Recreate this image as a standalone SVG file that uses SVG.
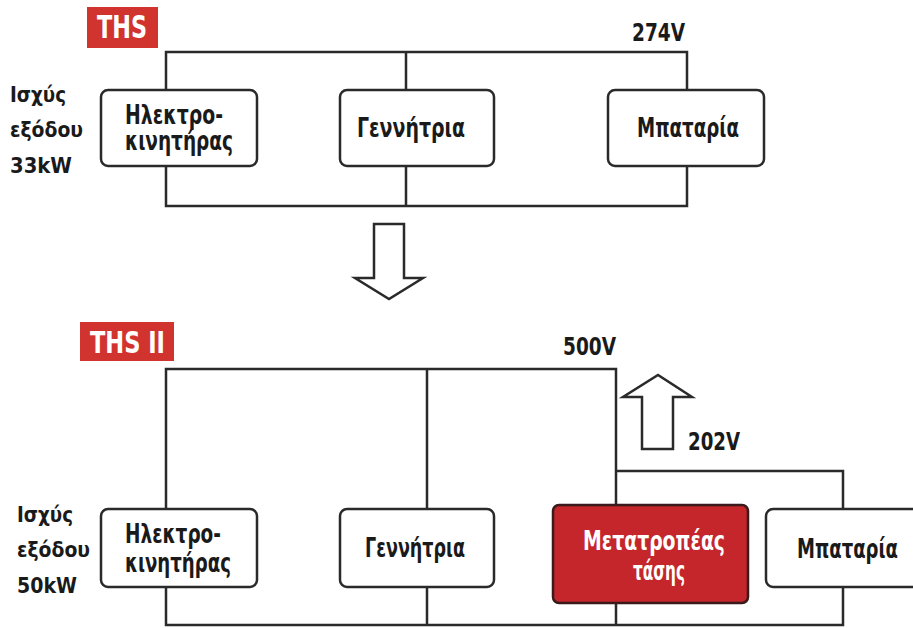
<svg xmlns="http://www.w3.org/2000/svg" width="913" height="628" viewBox="0 0 913 628">
<style>
.wire{fill:none;stroke:#2a2a2a;stroke-width:2.5}
.box{fill:#fff;stroke:#2a2a2a;stroke-width:2.5}
.conv{fill:#c4262b;stroke:#3a1a1a;stroke-width:2.5}
.tag{fill:#d1332f}
.arrow{fill:#fff;stroke:#2a2a2a;stroke-width:2.5;stroke-linejoin:miter}
text{font-family:"Liberation Sans Narrow","DejaVu Sans Condensed","Liberation Sans",sans-serif;font-weight:bold;fill:#1a1a1a}
.w{fill:#fff}
.lbl{font-size:22px}
.bt{font-size:27px}
.v{font-size:24px}
</style>
<rect width="913" height="628" fill="#fff"/>
<g id="connectors">
<path class="wire" d="M166 52H687V206H166Z M406 52V206"/>
<path class="wire" d="M166 369H616V625H166Z M427 369V625 M616 471H843V625H616"/>
</g>
<g id="ths-tag"><rect class="tag" x="87" y="7" width="71" height="41"/><text class="w" x="97" y="38" font-size="32" textLength="50" lengthAdjust="spacingAndGlyphs">THS</text></g>
<g id="v274"><text class="v" x="632" y="41" textLength="53" lengthAdjust="spacingAndGlyphs">274V</text></g>
<g id="power1">
<text class="lbl" x="10" y="102" textLength="56" lengthAdjust="spacingAndGlyphs">Ισχύς</text>
<text class="lbl" x="10" y="137" textLength="73" lengthAdjust="spacingAndGlyphs">εξόδου</text>
<text class="lbl" x="10" y="173" textLength="62" lengthAdjust="spacingAndGlyphs">33kW</text>
</g>
<g id="motor1"><rect class="box" x="101" y="90" width="156" height="76" rx="7"/>
<text class="bt" x="125" y="124" textLength="98" lengthAdjust="spacingAndGlyphs">Ηλεκτρο-</text>
<text class="bt" x="125" y="150" textLength="108" lengthAdjust="spacingAndGlyphs">κινητήρας</text></g>
<g id="gen1"><rect class="box" x="340" y="90" width="154" height="76" rx="7"/>
<text class="bt" x="357" y="137" textLength="108" lengthAdjust="spacingAndGlyphs">Γεννήτρια</text></g>
<g id="bat1"><rect class="box" x="608" y="90" width="156" height="76" rx="7"/>
<text class="bt" x="637" y="137" textLength="102" lengthAdjust="spacingAndGlyphs">Μπαταρία</text></g>
<g id="down-arrow"><polygon class="arrow" points="374,224 404,224 404,278 423,278 389,299 355,278 374,278"/></g>
<g id="ths2-tag"><rect class="tag" x="80" y="322" width="94" height="39"/><text class="w" x="90" y="353" font-size="30" textLength="75" lengthAdjust="spacingAndGlyphs">THS II</text></g>
<g id="v500"><text class="v" x="563" y="355" textLength="53" lengthAdjust="spacingAndGlyphs">500V</text></g>
<g id="up-arrow"><polygon class="arrow" points="642,449 673,449 673,397 692,397 658,375 623,397 642,397"/></g>
<g id="v202"><text class="v" x="688" y="450" textLength="52" lengthAdjust="spacingAndGlyphs">202V</text></g>
<g id="power2">
<text class="lbl" x="17" y="522" textLength="56" lengthAdjust="spacingAndGlyphs">Ισχύς</text>
<text class="lbl" x="17" y="557" textLength="73" lengthAdjust="spacingAndGlyphs">εξόδου</text>
<text class="lbl" x="17" y="593" textLength="60" lengthAdjust="spacingAndGlyphs">50kW</text>
</g>
<g id="motor2"><rect class="box" x="101" y="509" width="156" height="78" rx="7"/>
<text class="bt" x="125" y="543" textLength="96" lengthAdjust="spacingAndGlyphs">Ηλεκτρο-</text>
<text class="bt" x="125" y="572" textLength="106" lengthAdjust="spacingAndGlyphs">κινητήρας</text></g>
<g id="gen2"><rect class="box" x="340" y="509" width="154" height="78" rx="7"/>
<text class="bt" x="365" y="557" textLength="100" lengthAdjust="spacingAndGlyphs">Γεννήτρια</text></g>
<g id="converter"><rect class="conv" x="553" y="505" width="195" height="98" rx="6"/>
<text class="bt w" x="583" y="550" textLength="142" lengthAdjust="spacingAndGlyphs">Μετατροπέας</text>
<text class="bt w" x="633" y="580" textLength="52" lengthAdjust="spacingAndGlyphs">τάσης</text></g>
<g id="bat2"><rect class="box" x="766" y="509" width="160" height="78" rx="7"/>
<text class="bt" x="797" y="558" textLength="101" lengthAdjust="spacingAndGlyphs">Μπαταρία</text></g>
</svg>
